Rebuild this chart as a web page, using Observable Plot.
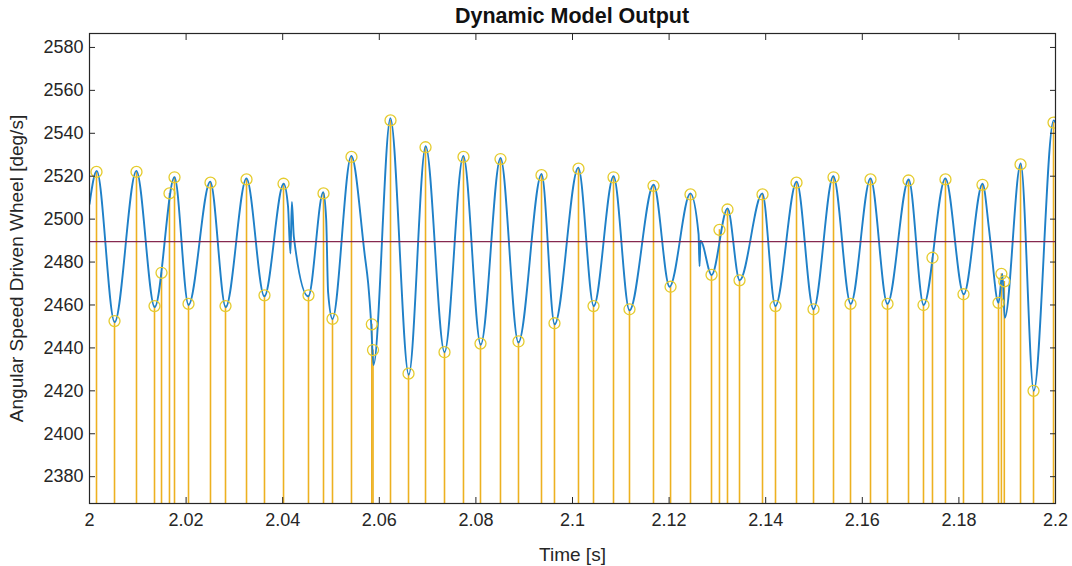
<!DOCTYPE html>
<html>
<head>
<meta charset="utf-8">
<script src="https://cdn.jsdelivr.net/npm/d3@7"></script>
<script src="https://cdn.jsdelivr.net/npm/@observablehq/plot@0.6"></script>
<style>
  html, body { margin: 0; padding: 0; background: #fff; }
  #wrap { width: 1072px; height: 566px; position: relative; font-family: "Liberation Sans", Arial, sans-serif; }
  #title { height: 30px; line-height: 33px; text-align: center; font-weight: bold; font-size: 21.5px; color: #111; padding-left: 72px; }
</style>
</head>
<body>
<div id="wrap">
  <div id="title">Dynamic Model Output</div>
  <div id="chart"></div>
</div>
<script>
// Signal (time in s, angular speed in deg/s)
const signalT = [2.0000, 2.0015, 2.0052, 2.0097, 2.0135, 2.0176, 2.0205, 2.0250, 2.0282, 2.0325, 2.0362, 2.0402,
  2.0411, 2.0416, 2.0419, 2.0423, 2.0453, 2.0484, 2.0490, 2.0494, 2.0503, 2.0542, 2.0570, 2.0577, 2.0583, 2.0588,
  2.0623, 2.0661, 2.0696, 2.0735, 2.0774, 2.0810, 2.0851, 2.0888, 2.0936, 2.0963, 2.1012, 2.1044, 2.1085, 2.1118,
  2.1168, 2.1201, 2.1244, 2.1261, 2.1263, 2.1265, 2.1288, 2.1321, 2.1346, 2.1393, 2.1420, 2.1464, 2.1499, 2.1540,
  2.1576, 2.1617, 2.1652, 2.1696, 2.1727, 2.1772, 2.1810, 2.1849, 2.1862, 2.1866, 2.1882, 2.1890, 2.1895, 2.1928,
  2.1955, 2.1996, 2.2000];
const signalV = [2507, 2522.5, 2452, 2522.5, 2459, 2519.5, 2460, 2517.5, 2459, 2519, 2464, 2516.5,
  2506, 2484, 2508, 2492, 2464, 2512.5, 2500, 2466, 2453.5, 2529.5, 2483, 2470, 2452, 2432,
  2547, 2427.5, 2534, 2438, 2529.5, 2441.5, 2528.5, 2442.5, 2521, 2451, 2524, 2459.5, 2520, 2457.5,
  2516, 2468.5, 2512, 2493, 2478, 2490, 2474, 2505, 2471.5, 2512, 2459.5, 2517.5, 2458, 2520,
  2460.5, 2519, 2460.5, 2518.5, 2460, 2519, 2465, 2516.5, 2496, 2488, 2461, 2474.5, 2454, 2526,
  2420, 2546, 2545];

// Detected extrema (stem markers)
const markerT = [2.00145, 2.00518, 2.00973, 2.01346, 2.01491, 2.01656, 2.01760, 2.02050, 2.02505, 2.02816, 2.03251,
  2.03623, 2.04017, 2.04534, 2.04845, 2.05031, 2.05424, 2.05845, 2.05870, 2.06232, 2.06605, 2.06957, 2.07350, 2.07743,
  2.08095, 2.08509, 2.08882, 2.09358, 2.09627, 2.10124, 2.10435, 2.10849, 2.11180, 2.11677, 2.12030, 2.12443, 2.12878,
  2.13043, 2.13209, 2.13458, 2.13934, 2.14203, 2.14638, 2.14990, 2.15404, 2.15756, 2.16170, 2.16522, 2.16957, 2.17267,
  2.17453, 2.17722, 2.18095, 2.18488, 2.18820, 2.18880, 2.18940, 2.19276, 2.19545, 2.19959];
const markerV = [2522, 2452.5, 2522, 2459.5, 2475, 2512, 2519.5, 2460.5, 2517, 2459.5, 2518.5,
  2464.5, 2516.5, 2464.5, 2512, 2453.5, 2529, 2451, 2439, 2546, 2428, 2533.5, 2438, 2529,
  2442, 2528, 2443, 2520.5, 2451.5, 2523.5, 2459.5, 2519.5, 2458, 2515.5, 2468.5, 2511.5, 2474,
  2495, 2504.5, 2471.5, 2511.5, 2459.5, 2517, 2458, 2519.5, 2460.5, 2518.5, 2460.5, 2518, 2460,
  2482, 2518.5, 2465, 2516, 2461, 2474.5, 2471, 2525.5, 2420, 2545];

// Mean level (red line)
const meanLevel = [2489.5];

// Axis ticks
const xTicks = [2, 2.02, 2.04, 2.06, 2.08, 2.1, 2.12, 2.14, 2.16, 2.18, 2.2];
const yTicks = [2380, 2400, 2420, 2440, 2460, 2480, 2500, 2520, 2540, 2560, 2580];
const xDomain = [2, 2.2];
const yDomain = [2367.5, 2586.5];

const signal = signalT.map((t, i) => ({t, v: signalV[i]}));
const markers = markerT.map((t, i) => ({t, v: markerV[i]}));

const fmtX = d => String(+d.toFixed(2));
const axisColor = "#262626";
const tickFont = 18;
const labelFont = 19;

const chart = Plot.plot({
  width: 1072,
  height: 536,
  marginTop: 3,
  marginBottom: 63,
  marginLeft: 89,
  marginRight: 17,
  style: {fontFamily: '"Liberation Sans", Arial, sans-serif', fontSize: tickFont + "px", color: axisColor, background: "#fff"},
  x: {domain: xDomain, ticks: xTicks},
  y: {domain: yDomain, ticks: yTicks},
  marks: [
    // stems from zero baseline (clipped at the frame)
    Plot.ruleX(markers, {x: "t", y1: 0, y2: "v", stroke: "#EDB120", strokeWidth: 1.6, clip: true}),
    // signal
    Plot.line(signal, {x: "t", y: "v", stroke: "#1f80c8", strokeWidth: 1.9, curve: "monotone-x", clip: true}),
    // mean level
    Plot.ruleY(meanLevel, {stroke: "#86294f", strokeWidth: 1.4}),
    // markers
    Plot.dot(markers, {x: "t", y: "v", r: 5.5, stroke: "#e5cc2e", strokeWidth: 1.3, fill: "none", clip: true}),
    // frame
    Plot.frame({stroke: axisColor, strokeWidth: 1.2}),
    // tick labels and axis titles
    Plot.axisX(xTicks, {anchor: "bottom", tickSize: 0, tickPadding: 10, tickFormat: fmtX, fontSize: tickFont, label: null}),
    Plot.axisX({anchor: "bottom", ticks: [], tickSize: 0, fontSize: labelFont,
      label: "Time [s]", labelAnchor: "center", labelOffset: 57, labelArrow: "none"}),
    Plot.axisY(yTicks, {anchor: "left", tickSize: 0, tickPadding: 6, tickFormat: d => String(d), fontSize: tickFont, label: null}),
    Plot.axisY({anchor: "left", ticks: [], tickSize: 0, fontSize: labelFont,
      label: "Angular Speed Driven Wheel [deg/s]", labelAnchor: "center", labelOffset: 80, labelArrow: "none"}),
    // inward ticks on all four sides
    Plot.axisX(xTicks, {anchor: "bottom", tickSize: -6, tickFormat: () => "", label: null, stroke: axisColor}),
    Plot.axisX(xTicks, {anchor: "top", tickSize: -6, tickFormat: () => "", label: null, stroke: axisColor}),
    Plot.axisY(yTicks, {anchor: "left", tickSize: -6, tickFormat: () => "", label: null, stroke: axisColor}),
    Plot.axisY(yTicks, {anchor: "right", tickSize: -6, tickFormat: () => "", label: null, stroke: axisColor})
  ]
});
document.getElementById("chart").appendChild(chart);
</script>
</body>
</html>
